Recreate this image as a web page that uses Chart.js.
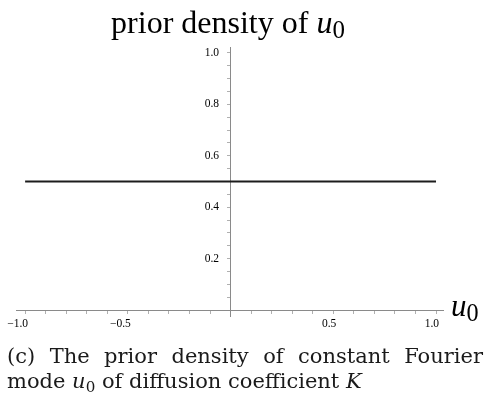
<!DOCTYPE html>
<html>
<head>
<meta charset="utf-8">
<script src="https://cdn.jsdelivr.net/npm/chart.js@4/dist/chart.umd.min.js"></script>
<style>
  html, body { margin: 0; padding: 0; background: #fff; }
  .wrap { position: relative; width: 484px; height: 396px; overflow: hidden; }
  #densityChart { position: absolute; left: 0; top: 0; }
  .title {
    position: absolute; left: 0; width: 456px; top: 2px; text-align: center;
    font-family: "Liberation Serif", serif; font-size: 32px; line-height: 40px; color: #000;
  }
  .axis-name {
    position: absolute; left: 451px; top: 288px;
    font-family: "Liberation Serif", serif; font-size: 31px; line-height: 36px; color: #000;
  }
  .title sub, .axis-name sub { font-style: normal; font-size: 0.78em; vertical-align: -0.2em; }
  .caption {
    position: absolute; left: 7px; width: 476px; top: 344px;
    font-family: "DejaVu Serif", serif; font-size: 21px; line-height: 25px; color: #1a1a1a;
  }
  .caption .first { text-align: justify; text-align-last: justify; }
  .caption sub { font-size: 0.72em; vertical-align: -0.25em; }
</style>
</head>
<body>
<div class="wrap">
  <canvas id="densityChart" width="484" height="396"></canvas>
  <div class="title">prior density of <i>u</i><sub>0</sub></div>
  <div class="axis-name"><i>u</i><sub>0</sub></div>
  <div class="caption">
    <div class="first">(c) The prior density of constant Fourier</div>
    <div>mode <i>u</i><sub>0</sub> of diffusion coefficient <i>K</i></div>
  </div>
</div>
<script>
// uniform prior on [-1, 1]
const uValues = [-1.0, 1.0];
const density = [0.5, 0.5];

// tick marks (minor + major) and the labelled ones
const xTickValues = [-1.0, -0.9, -0.8, -0.7, -0.6, -0.5, -0.4, -0.3, -0.2, -0.1, 0.0,
  0.1, 0.2, 0.3, 0.4, 0.5, 0.6, 0.7, 0.8, 0.9, 1.0];
const xLabelValues = [-1.0, -0.5, 0.5, 1.0];
const xLabels = ['\u22121.0', '\u22120.5', '0.5', '1.0'];

const yTickValues = [0.05, 0.1, 0.15, 0.2, 0.25, 0.3, 0.35, 0.4, 0.45, 0.5,
  0.55, 0.6, 0.65, 0.7, 0.75, 0.8, 0.85, 0.9, 0.95, 1.0];
const yLabelValues = [0.2, 0.4, 0.6, 0.8, 1.0];
const yLabels = ['0.2', '0.4', '0.6', '0.8', '1.0'];

const labelFor = (values, labels, v) => {
  const i = values.findIndex(t => Math.abs(t - v) < 1e-9);
  return i < 0 ? '' : labels[i];
};

const tickFont = { family: 'Liberation Serif', size: 11.5 };
const axisColor = '#8a8a8a';

const ctx = document.getElementById('densityChart').getContext('2d');
new Chart(ctx, {
  type: 'line',
  data: {
    datasets: [{
      label: 'prior density',
      data: uValues.map((u, i) => ({ x: u, y: density[i] })),
      borderColor: '#1c1c1c',
      borderWidth: 2,
      pointRadius: 0,
      fill: false,
      tension: 0
    }]
  },
  options: {
    responsive: false,
    animation: false,
    layout: { padding: { left: 12, right: 41, top: 47, bottom: 80 } },
    plugins: {
      legend: { display: false },
      tooltip: { enabled: false }
    },
    scales: {
      x: {
        type: 'linear',
        min: -1.043,
        max: 1.034,
        position: { y: 0 },
        afterBuildTicks: axis => { axis.ticks = xTickValues.map(v => ({ value: v })); },
        border: { display: true, color: axisColor, width: 1 },
        grid: { drawOnChartArea: false, drawTicks: true, tickLength: 3, tickColor: '#b0b0b0' },
        ticks: {
          autoSkip: false,
          maxRotation: 0,
          padding: 4,
          align: 'end',
          labelOffset: 3,
          color: '#000',
          font: tickFont,
          callback: v => labelFor(xLabelValues, xLabels, v)
        }
      },
      y: {
        type: 'linear',
        min: -0.023,
        max: 1.023,
        position: { x: 0 },
        afterBuildTicks: axis => { axis.ticks = yTickValues.map(v => ({ value: v })); },
        border: { display: true, color: axisColor, width: 1 },
        grid: { drawOnChartArea: false, drawTicks: true, tickLength: 3, tickColor: '#b0b0b0' },
        ticks: {
          autoSkip: false,
          color: '#000',
          font: tickFont,
          // a centred axis gets no label padding, so keep a gap with figure spaces
          callback: v => {
            const s = labelFor(yLabelValues, yLabels, v);
            return s ? s + '\u2007\u2007' : '';
          }
        }
      }
    }
  }
});
</script>
</body>
</html>
